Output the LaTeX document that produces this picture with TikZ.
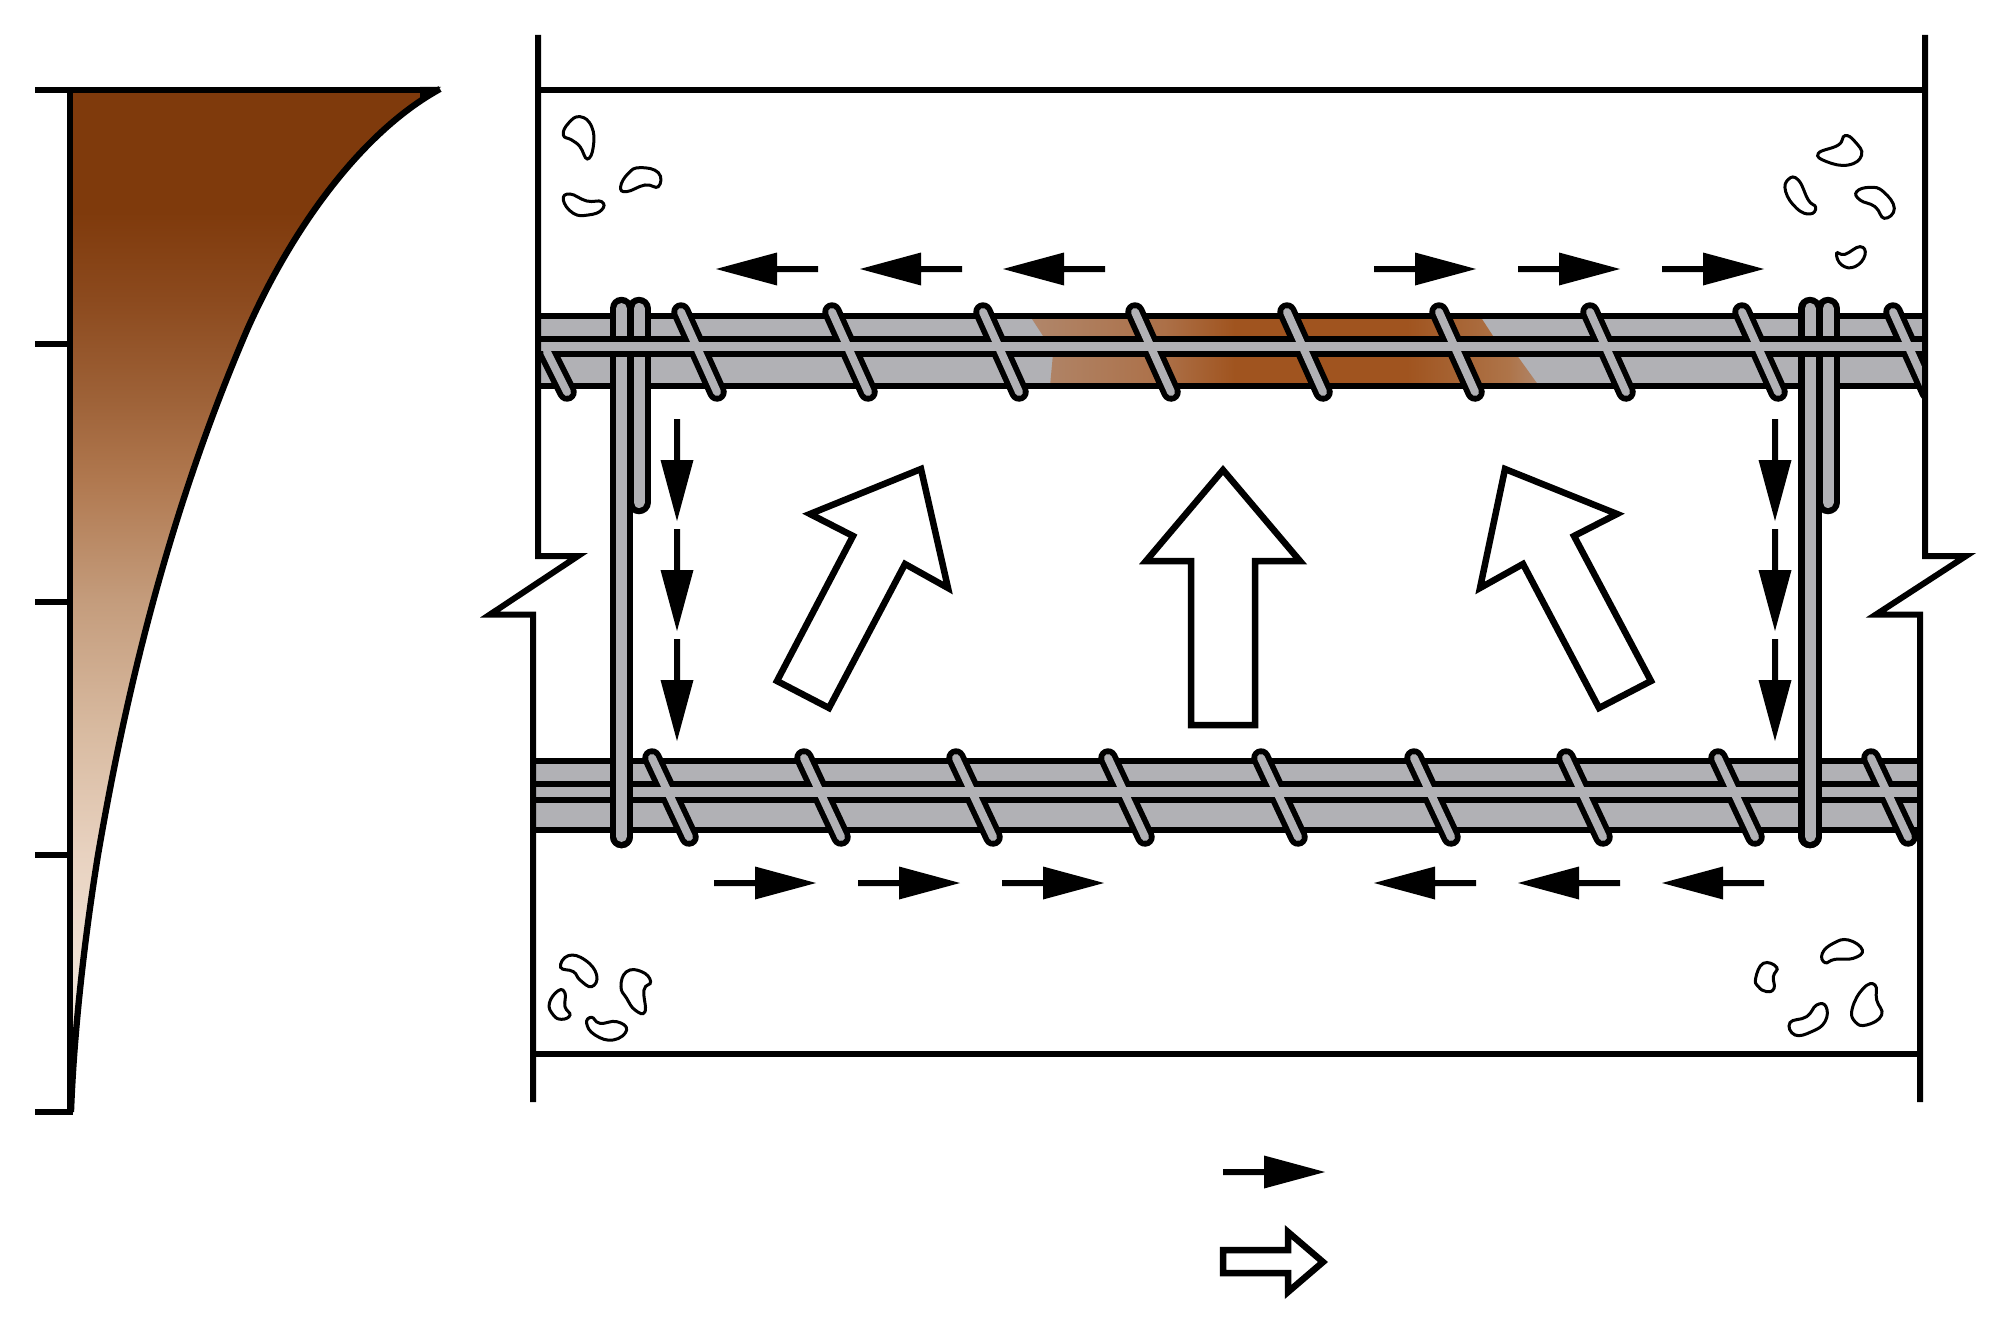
\documentclass[tikz,border=0pt]{standalone}
\definecolor{rebar}{HTML}{B1B1B5}
\definecolor{cha}{HTML}{F6EFE6}
\definecolor{chb}{HTML}{F2E6DA}
\definecolor{chc}{HTML}{E8D2C0}
\definecolor{chd}{HTML}{D8BAA0}
\definecolor{che}{HTML}{C49C7C}
\definecolor{chf}{HTML}{B0784F}
\definecolor{chg}{HTML}{9E6238}
\definecolor{chh}{HTML}{8C4A1E}
\definecolor{chi}{HTML}{7F3A0C}
\definecolor{paa}{HTML}{B0866A}
\definecolor{pab}{HTML}{AC7048}
\definecolor{pac}{HTML}{A0541F}
\definecolor{pad}{HTML}{AE7449}
\pgfdeclareverticalshading{chartshade}{100bp}{
 color(0bp)=(cha);
 color(25bp)=(cha);
 color(30.5bp)=(chb);
 color(37.6bp)=(chc);
 color(43.7bp)=(chd);
 color(50bp)=(che);
 color(55.9bp)=(chf);
 color(59.8bp)=(chg);
 color(64.7bp)=(chh);
 color(69bp)=(chi);
 color(100bp)=(chi)}
\pgfdeclarehorizontalshading{patchshade}{100bp}{
 color(0bp)=(paa);
 color(25bp)=(paa);
 color(38bp)=(pab);
 color(45bp)=(pac);
 color(62bp)=(pac);
 color(72bp)=(pad);
 color(75bp)=(paa);
 color(100bp)=(paa)}
\tikzset{
 line/.style={line width=6.3pt},
 bline/.style={line width=6pt,miter limit=20},
 tieblack/.style={line width=19.5pt,line cap=round,black},
 tiegrey/.style={line width=8pt,line cap=round,rebar},
 barblack/.style={line width=23.5pt,line cap=round,black},
 bargrey/.style={line width=11pt,line cap=round,rebar},
 hollow/.style={line width=6.5pt,fill=white,miter limit=20},
 stone/.style={line width=3pt,fill=white},
 smallarrow/.pic={
  \fill[black] (0,-3) -- (41,-3) -- (41,-16.5) -- (102,0) -- (41,16.5) -- (41,3) -- (0,3) -- cycle;
 },
 stonesa/.style={shift={#1},x=0.3333pt,y=-0.3333pt}
}
\begin{document}
\begin{tikzpicture}[x=1pt,y=-1pt]
\useasboundingbox (0,0) rectangle (2000,1327);
\fill[white] (0,0) rectangle (2000,1327);
% chart
\shade[shading=chartshade] (440,89) .. controls (365,130) and (295,222) .. (247,330) .. controls (172,505) and (128,680) .. (98,855) .. controls (85,935) and (74,1030) .. (71,1112) -- (70,90) -- cycle;
\draw[line] (440,89) .. controls (365,130) and (295,222) .. (247,330) .. controls (172,505) and (128,680) .. (98,855) .. controls (85,935) and (74,1030) .. (71,1112);
\draw[line] (70,90) -- (70,1115);
\draw[line] (35,90) -- (420,90);
\fill[black] (420,87) -- (441,87) -- (420,99) -- cycle;
\foreach \y in {344,602,855,1112} \draw[line] (35,\y) -- (70,\y);
% top plate
\fill[rebar] (538,316) rectangle (1925,386);
\shade[shading=patchshade] (1032,319) -- (1482,319) -- (1495,339) -- (1516,354) -- (1539,386) -- (1050,386) -- (1053,354) -- (1045,339) -- cycle;
\draw[line] (538,316) -- (1925,316);
\draw[line] (538,386) -- (1925,386);
% stirrups
\foreach \a/\b in {621.5/639,1810/1828}{
 \draw[barblack] (\a,308.5) -- (\a,836.5);
 \draw[barblack] (\b,308.5) -- (\b,502.5);
 \draw[bargrey] (\a,308.5) -- (\a,836.5);
 \draw[bargrey] (\b,308.5) -- (\b,502.5);
}
\draw[line] (538,339) -- (1925,339);
\draw[line] (538,354) -- (1925,354);
% top ties
\begin{scope}
\clip (538,280) rectangle (1925,420);
\foreach \x in {681,832,983,1135,1287,1439,1590,1742,1893}{
 \draw[tieblack] (\x,312) -- ++(36,80);
 \draw[tiegrey] (\x,312) -- ++(36,80);
}
\draw[tieblack] (547,352) -- (567,392);
\draw[tiegrey] (547,352) -- (567,392);
\end{scope}
\fill[rebar] (538,342.2) rectangle (1925,350.8);
% bottom plate
\fill[rebar] (533,761) rectangle (1920,830);
\foreach \y in {761,784,800,830} \draw[line] (533,\y) -- (1920,\y);
\begin{scope}
\clip (533,730) rectangle (1920,860);
\foreach \x in {652,804,956,1108,1261,1414,1566,1718,1871}{
 \draw[tieblack] (\x,758) -- ++(37,79);
 \draw[tiegrey] (\x,758) -- ++(37,79);
}
\end{scope}
\fill[rebar] (533,787.2) rectangle (1920,796.8);
% long stirrup legs in front of the bottom plate
\begin{scope}
\clip (533,745) rectangle (1920,860);
\foreach \a in {621.5,1810}{
 \draw[barblack] (\a,700) -- (\a,836.5);
 \draw[bargrey] (\a,700) -- (\a,836.5);
}
\end{scope}
% concrete outlines
\draw[line] (538,90) -- (1925,90);
\draw[line] (533,1054) -- (1920,1054);
\draw[bline] (538,35) -- (538,556) -- (578,556) -- (490,614.5) -- (533,614.5) -- (533,1102);
\draw[bline] (1925,35) -- (1925,556) -- (1966,556) -- (1876,614.5) -- (1920,614.5) -- (1920,1102);
% large arrows
\draw[hollow] (1223,470) -- (1300,561) -- (1255,561) -- (1255,725) -- (1191,725) -- (1191,561) -- (1146,561) -- cycle;
\draw[hollow] (921,469) -- (948,588) -- (905,564) -- (829,708) -- (777,681) -- (853,536) -- (810,514) -- cycle;
\draw[hollow] (1505,469) -- (1617,514) -- (1574,536) -- (1651,681) -- (1599,708) -- (1523,564) -- (1480,588) -- cycle;
% small arrows
\foreach \x in {818,962,1105} \pic[rotate=180] at (\x,269) {smallarrow};
\foreach \x in {1374,1518,1662} \pic at (\x,269) {smallarrow};
\foreach \x in {714,858,1002} \pic at (\x,883) {smallarrow};
\foreach \x in {1764,1620,1476} \pic[rotate=180] at (\x,883) {smallarrow};
\foreach \y in {419,529,639}{
 \pic[rotate=-90] at (677,\y) {smallarrow};
 \pic[rotate=-90] at (1775,\y) {smallarrow};
}
% legend
\pic at (1223,1172) {smallarrow};
\draw[hollow] (1223,1250) -- (1288,1250) -- (1288,1232) -- (1323,1262) -- (1288,1292) -- (1288,1273) -- (1223,1273) -- cycle;
% stones
\begin{scope}[stonesa={(530,90)}]
\draw[stone] plot[smooth cycle,tension=.8] coordinates {(150,80)(185,110)(190,170)(172,207)(150,170)(125,150)(100,135)(115,100)};
\draw[stone] plot[smooth cycle,tension=.8] coordinates {(272,290)(295,250)(330,233)(385,248)(385,290)(345,285)(290,305)};
\draw[stone] plot[smooth cycle,tension=.8] coordinates {(100,330)(120,312)(170,333)(215,335)(215,360)(175,375)(130,370)};
\end{scope}
\begin{scope}[stonesa={(1760,120)}]
\draw[stone] plot[smooth cycle,tension=.8] coordinates {(175,100)(235,75)(255,47)(285,65)(305,105)(265,135)(200,125)};
\draw[stone] plot[smooth cycle,tension=.8] coordinates {(85,178)(115,180)(145,240)(167,262)(150,282)(110,265)(77,215)};
\draw[stone] plot[smooth cycle,tension=.8] coordinates {(290,215)(330,202)(370,215)(403,265)(373,295)(345,260)(300,240)};
\draw[stone] plot[smooth cycle,tension=.8] coordinates {(230,400)(255,403)(300,380)(315,405)(285,440)(245,435)};
\end{scope}
\begin{scope}[stonesa={(520,730)}]
\draw[stone] plot[smooth cycle,tension=.8] coordinates {(122,712)(145,677)(195,690)(230,735)(215,770)(180,750)(160,725)};
\draw[stone] plot[smooth cycle,tension=.8] coordinates {(303,770)(320,725)(365,725)(392,755)(372,780)(375,845)(345,840)(320,805)};
\draw[stone] plot[smooth cycle,tension=.8] coordinates {(88,820)(115,782)(135,790)(135,830)(150,855)(125,868)(100,855)};
\draw[stone] plot[smooth cycle,tension=.8] coordinates {(200,880)(215,862)(240,880)(290,875)(320,900)(280,930)(225,915)};
\end{scope}
\begin{scope}[stonesa={(1700,730)}]
\draw[stone] plot[smooth cycle,tension=.8] coordinates {(367,670)(400,640)(445,630)(487,660)(460,685)(405,688)(375,698)};
\draw[stone] plot[smooth cycle,tension=.8] coordinates {(167,745)(190,700)(230,712)(220,740)(222,775)(200,785)(175,770)};
\draw[stone] plot[smooth cycle,tension=.8] coordinates {(457,835)(490,775)(525,765)(530,810)(545,855)(500,885)(465,875)};
\draw[stone] plot[smooth cycle,tension=.8] coordinates {(270,878)(320,860)(350,825)(378,830)(375,875)(335,905)(285,915)};
\end{scope}
\end{tikzpicture}
\end{document}
